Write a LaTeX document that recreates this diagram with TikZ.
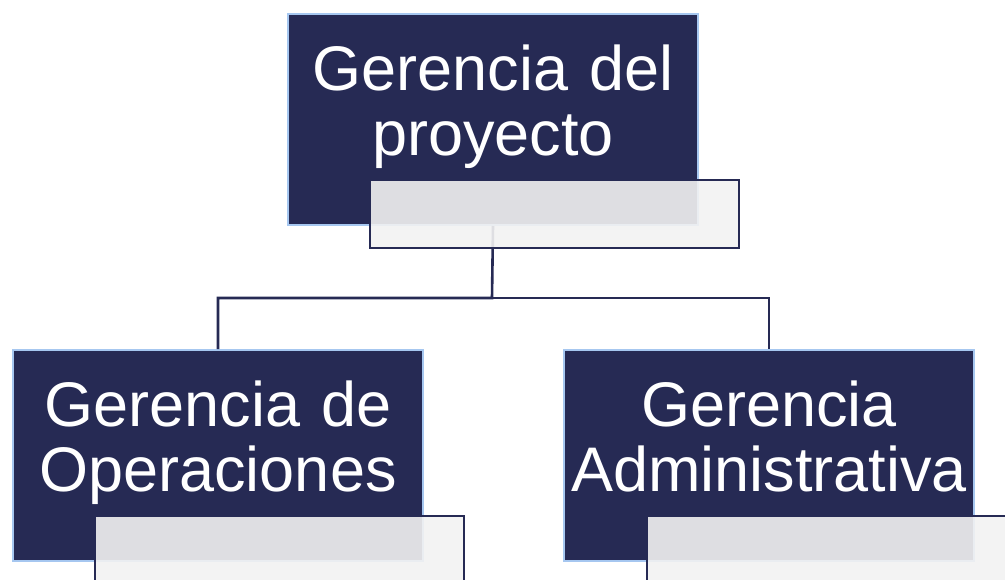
\documentclass[tikz,border=0pt]{standalone}
\usepackage{fontspec}
\setmainfont{Liberation Sans}
\definecolor{navy}{RGB}{38,42,84}
\definecolor{edgeblue}{RGB}{166,199,240}
\definecolor{paleg}{RGB}{242,242,242}
\begin{document}
\begin{tikzpicture}[x=1pt,y=1pt,
  mainbox/.style={draw=edgeblue, line width=2pt, fill=navy, minimum width=410pt, minimum height=211pt, inner sep=0pt, anchor=north west},
  overbox/.style={draw=navy, line width=2pt, fill=paleg, fill opacity=0.9, minimum width=369pt, minimum height=68pt, inner sep=0pt, anchor=north west},
  lbl/.style={text=white, font=\fontsize{63}{65}\selectfont, text width=405pt, align=center, inner sep=0pt, anchor=base},
  conn/.style={draw=navy, line width=2.6pt}
]
\useasboundingbox (0,0) rectangle (1005,-579);
\clip (0,0) rectangle (1005,-579);
% main boxes
\node[mainbox] (top) at (287,-13) {};
\node[mainbox] (bl) at (12,-349) {};
\node[mainbox] (br) at (563,-349) {};
% connectors
\coordinate (j) at (492,-298);
\draw[conn] (top.south) -- (j) -| (bl.north);
\draw[conn] (j) -| (br.north);
% labels
\node[lbl] (ttop) at ([yshift=-77pt]top.north) {Gerencia del\\proyecto};
\node[lbl] (tbl) at ([yshift=-77pt]bl.north) {Gerencia de\\Operaciones};
\node[lbl] (tbr) at ([yshift=-77pt]br.north) {Gerencia\\Administrativa};
% overlay boxes
\node[overbox] (otop) at (369,-179) {};
\node[overbox] (obl) at (94,-515) {};
\node[overbox] (obr) at (646,-515) {};
\end{tikzpicture}
\end{document}
